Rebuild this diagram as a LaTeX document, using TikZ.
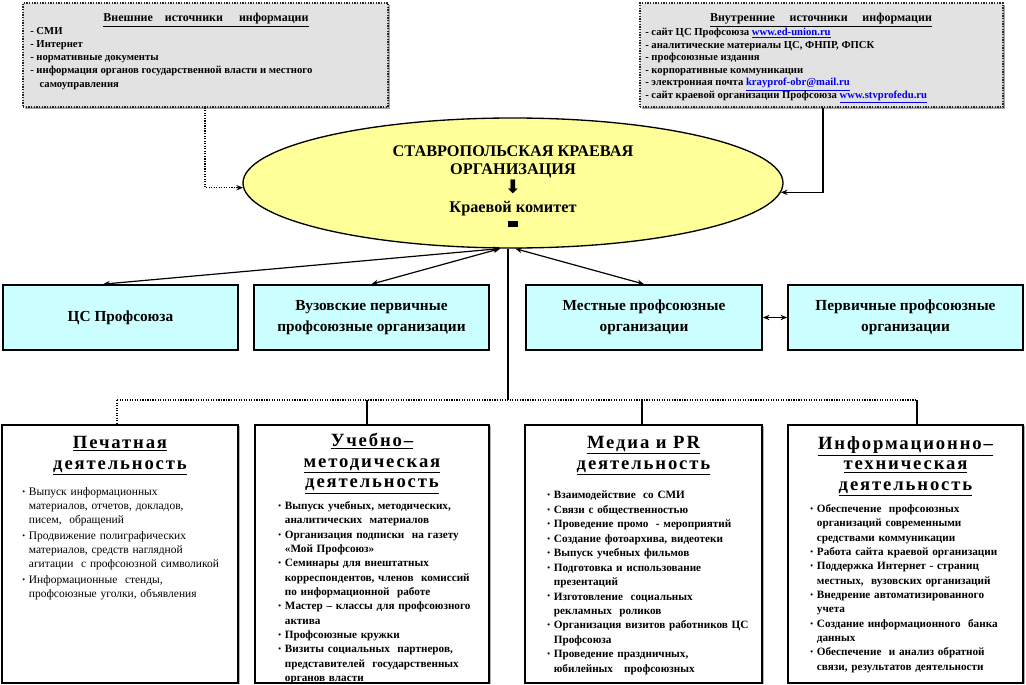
\documentclass[tikz,border=0pt]{standalone}
\usepackage{fontspec}
\usepackage{graphicx}
\setmainfont{Liberation Serif}
\newfontfamily\symfont{DejaVu Sans}
\newfontfamily\hdrfont[LetterSpace=10]{Liberation Serif}
\usetikzlibrary{shapes.geometric, arrows.meta, shadows}
\definecolor{ellfill}{HTML}{FFFF99}
\definecolor{cyanfill}{HTML}{CCFFFF}
\definecolor{srcfill}{HTML}{E2E2E2}
\definecolor{linkblue}{HTML}{0000EE}
\newcommand\bitem[1]{\par\hangindent=5pt\hangafter=1\noindent\makebox[5pt][l]{\raisebox{0.8pt}{\scalebox{0.7}{\textbullet}}}#1}
\newcommand\weblink[1]{\textcolor{linkblue}{\underline{#1}}}
\begin{document}
\begin{tikzpicture}[x=0.75pt, y=-0.75pt,
  srcbox/.style={draw=black!85, densely dotted, line width=1pt, fill=srcfill, inner sep=0,
    drop shadow={fill=gray!70, opacity=1, shadow xshift=1.5pt, shadow yshift=-1.5pt}},
  srctext/.style={inner sep=0, anchor=north west, align=left, font=\bfseries\fontsize{8}{9.9}\selectfont},
  srchead/.style={inner sep=0, anchor=north, font=\bfseries\fontsize{9}{11}\selectfont},
  ellbox/.style={ellipse, draw=black, line width=1pt, fill=ellfill, inner sep=0},
  orgbox/.style={draw=black, line width=1.3pt, fill=cyanfill, inner sep=0, align=center,
    font=\bfseries\fontsize{11.5}{15.75}\selectfont},
  actbox/.style={draw=black, line width=1.3pt, fill=white, inner sep=0,
    drop shadow={fill=gray!60, opacity=1, shadow xshift=1.5pt, shadow yshift=-1pt}},
  acthead/.style={inner sep=0, anchor=north, align=center,
    font=\hdrfont\bfseries\fontsize{14}{15.5}\selectfont},
  actlist/.style={inner sep=0, anchor=north west, align=left},
  conn/.style={line width=0.9pt, -{Stealth[length=5pt,width=4pt]}},
  biconn/.style={line width=0.9pt, {Stealth[length=5pt,width=4pt]}-{Stealth[length=5pt,width=4pt]}},
  trunk/.style={line width=1.1pt},
  bar/.style={line width=0.9pt, densely dotted}
]
\useasboundingbox (0,0) rectangle (1026,685);

% ---- source boxes ----
\node[srcbox, minimum width=273.75pt, minimum height=78pt] (tl) at (205.5,55) {};
\node[srcbox, minimum width=272.25pt, minimum height=78pt] (tr) at (821.5,55) {};
\node[srchead] (tlh) at (206,13) {\underline{Внешние\hspace{9pt}источники\hspace{12pt}информации}};
\node[srctext] (tlt) at (30,27) {- СМИ\\- Интернет\\- нормативные документы\\- информация органов государственной власти и местного\\\hspace*{7pt}самоуправления};
\node[srchead] (trh) at (821,13) {\underline{Внутренние\hspace{11pt}источники\hspace{11pt}информации}};
\node[srctext, font=\bfseries\fontsize{8}{9.4}\selectfont] (trt) at (645,28) {- сайт ЦС Профсоюза \weblink{www.ed-union.ru}\\- аналитические материалы ЦС, ФНПР, ФПСК\\- профсоюзные издания\\- корпоративные коммуникации\\- электронная почта \weblink{krayprof-obr@mail.ru}\\- сайт краевой организации Профсоюза \weblink{www.stvprofedu.ru}};

% ---- central ellipse ----
\node[ellbox, minimum width=405pt, minimum height=97.5pt] (ell) at (513,183) {};
\node[inner sep=0, align=center, font=\bfseries\fontsize{12.2}{14}\selectfont] (ellt) at (513,186)
  {СТАВРОПОЛЬСКАЯ КРАЕВАЯ\\ОРГАНИЗАЦИЯ\\{\symfont\fontsize{14}{14}\selectfont ⬇}\\Краевой комитет\\[-3pt]\rule{7.5pt}{4.5pt}};

% ---- organisations row ----
\node[orgbox, minimum width=176.25pt, minimum height=48.75pt] (r1) at (120.5,317.5) {ЦС Профсоюза};
\node[orgbox, minimum width=176.25pt, minimum height=48.75pt] (r2) at (371.5,317.5) {Вузовские первичные\\профсоюзные организации};
\node[orgbox, minimum width=177pt, minimum height=48.75pt] (r3) at (644,317.5) {Местные профсоюзные\\организации};
\node[orgbox, minimum width=176.25pt, minimum height=48.75pt] (r4) at (905.5,317.5) {Первичные профсоюзные\\организации};

% ---- activity boxes ----
\node[actbox, minimum width=177pt, minimum height=193.5pt] (b1) at (120,554) {};
\node[actbox, minimum width=175.5pt, minimum height=193.5pt] (b2) at (372,554) {};
\node[actbox, minimum width=177.75pt, minimum height=193.5pt] (b3) at (643.5,554) {};
\node[actbox, minimum width=176.25pt, minimum height=193.5pt] (b4) at (905.5,554) {};

\node[acthead] (b1h) at (120,436) {\underline{Печатная}\\\underline{деятельность}};
\node[acthead] (b2h) at (372,433) {\underline{Учебно–}\\\underline{методическая}\\\underline{деятельность}};
\node[acthead] (b3h) at (643.5,436) {\underline{Медиа и PR}\\\underline{деятельность}};
\node[acthead] (b4h) at (905.5,436) {\underline{Информационно–}\\\underline{техническая}\\\underline{деятельность}};

\node[actlist, text width=165pt, font=\fontsize{8.6}{10.5}\selectfont] (b1t) at (22,479) {\setlength{\parskip}{1.6pt}%
\bitem{Выпуск информационных\newline материалов, отчетов, докладов,\newline писем,\ \ обращений}%
\bitem{Продвижение полиграфических\newline материалов, средств наглядной\newline агитации\ \ с профсоюзной символикой}%
\bitem{Информационные\ \ стенды,\newline профсоюзные уголки, объявления}\par};

\begin{scope}
\clip ([shift={(0.7pt,-0.7pt)}]b2.north west) rectangle ([shift={(-0.7pt,0.7pt)}]b2.south east);
\node[actlist, text width=165pt, font=\bfseries\fontsize{8.4}{10.75}\selectfont] (b2t) at (278,495) {%
\bitem{Выпуск учебных, методических,\newline аналитических\ \ материалов}%
\bitem{Организация подписки\ \ на газету\newline «Мой Профсоюз»}%
\bitem{Семинары для внештатных\newline корреспондентов, членов\ \ комиссий\newline по информационной\ \ работе}%
\bitem{Мастер – классы для профсоюзного\newline актива}%
\bitem{Профсоюзные кружки}%
\bitem{Визиты социальных\ \ партнеров,\newline представителей\ \ государственных\newline органов власти}\par};
\end{scope}

\node[actlist, text width=165pt, font=\bfseries\fontsize{8.4}{10.85}\selectfont] (b3t) at (547,484) {%
\bitem{Взаимодействие\ \ со СМИ}%
\bitem{Связи с общественностью}%
\bitem{Проведение промо\ \ - мероприятий}%
\bitem{Создание фотоархива, видеотеки}%
\bitem{Выпуск учебных фильмов}%
\bitem{Подготовка и использование\newline презентаций}%
\bitem{Изготовление\ \ социальных\newline рекламных\ \ роликов}%
\bitem{Организация визитов работников ЦС\newline Профсоюза}%
\bitem{Проведение праздничных,\newline юбилейных\ \ \ профсоюзных}\par};

\node[actlist, text width=160pt, font=\bfseries\fontsize{8.4}{10.75}\selectfont] (b4t) at (810,498) {%
\bitem{Обеспечение\ \ профсоюзных\newline организаций современными\newline средствами коммуникации}%
\bitem{Работа сайта краевой организации}%
\bitem{Поддержка Интернет - страниц\newline местных,\ \ вузовских организаций}%
\bitem{Внедрение автоматизированного\newline учета}%
\bitem{Создание информационного\ \ банка\newline данных}%
\bitem{Обеспечение\ \ и анализ обратной\newline связи, результатов деятельности}\par};

% ---- connectors ----
\coordinate (lx) at (205,0);
\coordinate (rx) at (823,0);
\draw[conn, densely dotted] (tl.south -| lx) |- (ell.181.5);
\draw[conn] (tr.south -| rx) |- (ell.358.5);

\draw[biconn] (ell.259) -- ([xshift=-13pt]r1.north);
\draw[biconn] (ell.259) -- (r2.north);
\draw[biconn] (ell.272) -- (r3.north);
\draw[biconn] (r3.east) -- (r4.west);

\coordinate (hub) at (508,400);
\coordinate (barL) at (117,400);
\coordinate (d2) at (367,400);
\coordinate (d3) at (642,400);
\coordinate (barR) at (917,400);
\draw[trunk] (hub |- ell.south) -- (hub);
\draw[bar] (barL) -- (barR);
\draw[bar] (barL) -- (barL |- b1.north);
\draw[trunk] (d2) -- (d2 |- b2.north);
\draw[trunk] (d3) -- (d3 |- b3.north);
\draw[trunk] (barR) -- (barR |- b4.north);
\end{tikzpicture}
\end{document}
